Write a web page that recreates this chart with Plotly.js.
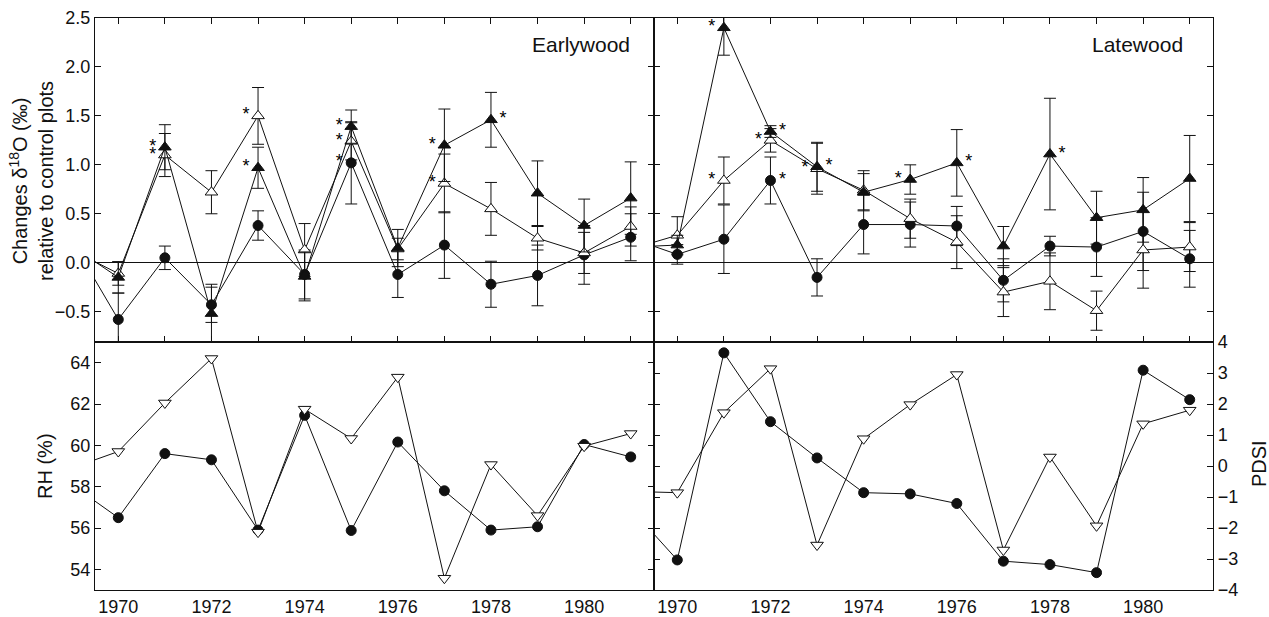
<!DOCTYPE html>
<html>
<head>
<meta charset="utf-8">
<script src="https://cdn.plot.ly/plotly-3.0.1.min.js"></script>
<style>html,body{margin:0;padding:0;background:#fff;}#chart{width:1269px;height:617px;}</style>
</head>
<body>
<div id="chart"></div>
<script>
// ---------- data ----------
const years = [1969, 1970, 1971, 1972, 1973, 1974, 1975, 1976, 1977, 1978, 1979, 1980, 1981];
const xTickYears = [1970, 1971, 1972, 1973, 1974, 1975, 1976, 1977, 1978, 1979, 1980, 1981];
const xTickLabels = ['1970', '', '1972', '', '1974', '', '1976', '', '1978', '', '1980', ''];

// Earlywood: changes in d18O relative to control plots
const ewCircle       = [0.23, -0.58, 0.05, -0.43, 0.38, -0.12, 1.02, -0.12, 0.18, -0.22, -0.13, 0.08, 0.26];
const ewCircleErr    = [0, 0.27, 0.12, 0.18, 0.15, 0.25, 0.42, 0.235, 0.34, 0.235, 0.31, 0.30, 0.24];
const ewTriFill      = [0.17, -0.15, 1.18, -0.52, 0.97, -0.14, 1.39, 0.15, 1.20, 1.46, 0.71, 0.38, 0.66];
const ewTriFillErr   = [0, 0.16, 0.23, 0.30, 0.21, 0.25, 0.17, 0.19, 0.37, 0.28, 0.33, 0.27, 0.37];
const ewTriOpen      = [0.13, -0.11, 1.10, 0.72, 1.50, 0.13, 1.24, 0.14, 0.81, 0.55, 0.25, 0.10, 0.37];
const ewTriOpenErr   = [0, 0.12, 0.22, 0.22, 0.29, 0.27, 0.19, 0.11, 0.30, 0.27, 0.12, 0.21, 0.20];
const ewCircleSig    = ['', '', '', '', '', '', 'L', '', '', '', '', '', ''];
const ewTriFillSig   = ['', '', 'L', '', 'L', '', 'L', '', 'L', 'R', '', '', ''];
const ewTriOpenSig   = ['', '', 'L', '', 'L', '', 'L', '', 'L', '', '', '', ''];

// Latewood
const lwCircle       = [0.25, 0.085, 0.24, 0.84, -0.15, 0.39, 0.39, 0.375, -0.18, 0.17, 0.16, 0.32, 0.04];
const lwCircleErr    = [0, 0.10, 0.35, 0.24, 0.19, 0.30, 0.23, 0.20, 0.22, 0.10, 0.30, 0.40, 0.29];
const lwTriFill      = [0.16, 0.18, 2.40, 1.34, 0.98, 0.72, 0.85, 1.02, 0.17, 1.11, 0.46, 0.54, 0.86];
const lwTriFillErr   = [0, 0.10, 0.28, 0.06, 0.25, 0.19, 0.15, 0.34, 0.20, 0.57, 0.27, 0.33, 0.44];
const lwTriOpen      = [0.14, 0.28, 0.84, 1.25, 0.96, 0.74, 0.45, 0.21, -0.30, -0.19, -0.49, 0.13, 0.16];
const lwTriOpenErr   = [0, 0.19, 0.24, 0.12, 0.26, 0.20, 0.20, 0.27, 0.25, 0.29, 0.20, 0.39, 0.25];
const lwCircleSig    = ['', '', '', 'R', '', '', '', '', '', '', '', '', ''];
const lwTriFillSig   = ['', '', 'L', 'R', 'R', '', 'L', 'R', '', 'R', '', '', ''];
const lwTriOpenSig   = ['', '', 'L', 'L', 'L', '', '', '', '', '', '', '', ''];

// Climate: RH (%) and PDSI
const rhTri      = [58.9, 59.7, 62.05, 64.2, 55.8, 61.75, 60.33, 63.3, 53.57, 59.07, 56.6, 59.96, 60.57];
const rhCircle   = [58.1, 56.5, 59.6, 59.3, 55.9, 61.45, 55.88, 60.16, 57.8, 55.9, 56.06, 60.04, 59.44];
const pdsiCircle = [-1.37, -3.03, 3.65, 1.43, 0.26, -0.86, -0.90, -1.21, -3.07, -3.18, -3.44, 3.09, 2.14];
const pdsiTri    = [-0.82, -0.86, 1.72, 3.14, -2.55, 0.88, 1.98, 2.95, -2.71, 0.29, -1.93, 1.36, 1.80];

const d18oTicks = [-0.5, 0.0, 0.5, 1.0, 1.5, 2.0, 2.5];
const rhTicks = [54, 56, 58, 60, 62, 64];
const pdsiTicks = [-4, -3, -2, -1, 0, 1, 2, 3, 4];

// ---------- helpers ----------
const FONT = 'Liberation Sans, Arial, Helvetica, sans-serif';
const lineStyle = {color: '#111', width: 1};

function series(y, err, symbol, fill, xa, ya) {
  const t = {
    x: years, y: y, xaxis: xa, yaxis: ya, type: 'scatter', mode: 'lines+markers',
    line: lineStyle,
    marker: {symbol: symbol, size: symbol.indexOf('triangle') === 0 ? 11 : 10,
             color: fill, line: {color: '#111', width: 1}},
    hoverinfo: 'skip', cliponaxis: true
  };
  if (err) t.error_y = {type: 'data', array: err, visible: true, color: '#111', thickness: 1, width: 6};
  return t;
}
function stars(y, sig, side, xa, ya) {
  const xs = [], ys = [];
  sig.forEach((s, i) => { if (s === side) { xs.push(years[i]); ys.push(y[i]); } });
  return {
    x: xs, y: ys, xaxis: xa, yaxis: ya, type: 'scatter', mode: 'markers+text',
    marker: {size: 12, color: 'rgba(0,0,0,0)', line: {width: 0}},
    text: xs.map(() => '*'), textposition: side === 'L' ? 'middle left' : 'middle right',
    textfont: {family: FONT, size: 18, color: '#000000'}, hoverinfo: 'skip', cliponaxis: false
  };
}

const traces = [
  series(ewCircle, ewCircleErr, 'circle', '#111', 'x', 'y'),
  series(ewTriOpen, ewTriOpenErr, 'triangle-up', '#fff', 'x', 'y'),
  series(ewTriFill, ewTriFillErr, 'triangle-up', '#111', 'x', 'y'),
  series(lwCircle, lwCircleErr, 'circle', '#111', 'x2', 'y2'),
  series(lwTriOpen, lwTriOpenErr, 'triangle-up', '#fff', 'x2', 'y2'),
  series(lwTriFill, lwTriFillErr, 'triangle-up', '#111', 'x2', 'y2'),
  series(rhCircle, null, 'circle', '#111', 'x3', 'y3'),
  series(rhTri, null, 'triangle-down', '#fff', 'x3', 'y3'),
  series(pdsiCircle, null, 'circle', '#111', 'x4', 'y4'),
  series(pdsiTri, null, 'triangle-down', '#fff', 'x4', 'y4')
];
['L', 'R'].forEach(s => {
  traces.push(stars(ewCircle, ewCircleSig, s, 'x', 'y'));
  traces.push(stars(ewTriFill, ewTriFillSig, s, 'x', 'y'));
  traces.push(stars(ewTriOpen, ewTriOpenSig, s, 'x', 'y'));
  traces.push(stars(lwCircle, lwCircleSig, s, 'x2', 'y2'));
  traces.push(stars(lwTriFill, lwTriFillSig, s, 'x2', 'y2'));
  traces.push(stars(lwTriOpen, lwTriOpenSig, s, 'x2', 'y2'));
});

const W = 1269, H = 617, ML = 95, MR = 56, MT = 18, MB = 27;
const PW = W - ML - MR, PH = H - MT - MB;
const splitY = (590 - 342) / PH;

const baseAxis = {
  showline: true, linecolor: '#111', linewidth: 1.2, mirror: 'ticks',
  ticks: 'inside', ticklen: 6, tickwidth: 1, tickcolor: '#111',
  showgrid: false, zeroline: false,
  tickfont: {family: FONT, size: 18, color: '#111'}
};
function xTop(domain, anchor) {
  return Object.assign({}, baseAxis, {domain: domain, anchor: anchor, range: [1969.5, 1981.5],
    tickmode: 'array', tickvals: xTickYears, showticklabels: false});
}
function xBottom(domain, anchor) {
  return Object.assign({}, baseAxis, {domain: domain, anchor: anchor, range: [1969.5, 1981.5],
    tickmode: 'array', tickvals: xTickYears, ticktext: xTickLabels, ticks: '', mirror: true});
}
function yTop(anchor, labels) {
  return Object.assign({}, baseAxis, {domain: [splitY, 1], anchor: anchor, range: [-0.81, 2.5],
    tickmode: 'array', tickvals: d18oTicks, ticktext: d18oTicks.map(v => v.toFixed(1).replace('-', '\u2212')),
    showticklabels: labels, zeroline: true, zerolinecolor: '#111', zerolinewidth: 1});
}

const layout = {
  width: W, height: H,
  margin: {l: ML, r: MR, t: MT, b: MB, pad: 0},
  paper_bgcolor: '#fff', plot_bgcolor: '#fff',
  showlegend: false,
  font: {family: FONT, color: '#111'},
  xaxis: xTop([0, 0.5], 'y'),
  xaxis2: xTop([0.5, 1], 'y2'),
  xaxis3: xBottom([0, 0.5], 'y3'),
  xaxis4: xBottom([0.5, 1], 'y4'),
  yaxis: yTop('x', true),
  yaxis2: yTop('x2', false),
  yaxis3: Object.assign({}, baseAxis, {domain: [0, splitY], anchor: 'x3', range: [53, 65],
    tickmode: 'array', tickvals: rhTicks}),
  yaxis4: Object.assign({}, baseAxis, {domain: [0, splitY], anchor: 'x4', range: [-4, 4], side: 'right',
    tickmode: 'array', tickvals: pdsiTicks, ticktext: pdsiTicks.map(v => String(v).replace('-', '\u2212'))}),
  annotations: [
    {text: 'Earlywood', xref: 'x domain', yref: 'y domain', x: 0.961, y: 0.917,
     xanchor: 'right', yanchor: 'middle', showarrow: false, font: {family: FONT, size: 21, color: '#111'}},
    {text: 'Latewood', xref: 'x2 domain', yref: 'y2 domain', x: 0.95, y: 0.917,
     xanchor: 'right', yanchor: 'middle', showarrow: false, font: {family: FONT, size: 21, color: '#111'}},
    {text: 'Changes \u03b4<sup>18</sup>O (\u2030)<br>relative to control plots', textangle: -90,
     xref: 'paper', yref: 'paper', x: (31 - ML) / PW, y: (590 - 181) / PH,
     xanchor: 'center', yanchor: 'middle', showarrow: false, font: {family: FONT, size: 20, color: '#111'}},
    {text: 'RH (%)', textangle: -90, xref: 'paper', yref: 'paper', x: (45 - ML) / PW, y: (590 - 466) / PH,
     xanchor: 'center', yanchor: 'middle', showarrow: false, font: {family: FONT, size: 20, color: '#111'}},
    {text: 'PDSI', textangle: -90, xref: 'paper', yref: 'paper', x: (1259 - ML) / PW, y: (590 - 464) / PH,
     xanchor: 'center', yanchor: 'middle', showarrow: false, font: {family: FONT, size: 20, color: '#111'}}
  ]
};

Plotly.newPlot('chart', traces, layout, {staticPlot: true, displayModeBar: false});
</script>
</body>
</html>
